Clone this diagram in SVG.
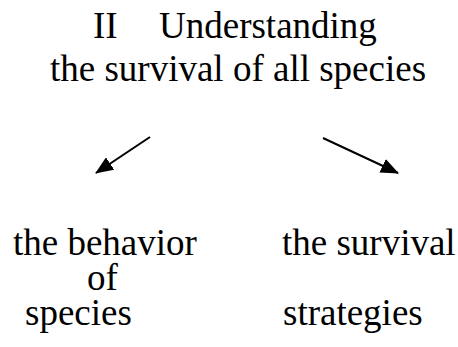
<svg xmlns="http://www.w3.org/2000/svg" width="458" height="347" viewBox="0 0 458 347">
<style>
text{font-family:"Liberation Serif","Times New Roman",serif;font-size:37px;fill:#000}
.c{stroke:#000;stroke-width:2;fill:none}
</style>
<defs>
<marker id="ah" viewBox="0 0 18 15" refX="17" refY="7.5" markerWidth="18" markerHeight="15" markerUnits="userSpaceOnUse" orient="auto">
<path d="M0,0L18,7.5L0,15z" fill="#000"/>
</marker>
</defs>
<rect width="458" height="347" fill="#fff"/>
<g id="title">
<text><tspan x="93" y="38">II</tspan><tspan x="159" y="38">Understanding</tspan><tspan x="50" y="81">the survival of all species</tspan></text>
</g>
<g id="connectors">
<line class="c" x1="150" y1="137" x2="96" y2="173" marker-end="url(#ah)"/>
<line class="c" x1="323" y1="138" x2="398" y2="173" marker-end="url(#ah)"/>
</g>
<g id="left">
<text><tspan x="13" y="255">the behavior</tspan><tspan x="87" y="290">of</tspan><tspan x="25" y="325">species</tspan></text>
</g>
<g id="right">
<text><tspan x="282" y="255">the survival</tspan><tspan x="283" y="325">strategies</tspan></text>
</g>
</svg>
